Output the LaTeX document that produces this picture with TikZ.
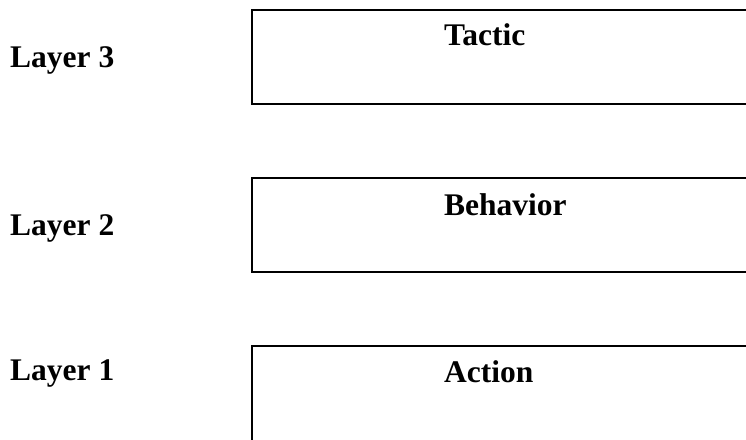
\documentclass[tikz,border=0pt]{standalone}
\usepackage{fontspec}
\setmainfont{Liberation Serif}
\begin{document}
\begin{tikzpicture}[x=1pt,y=-1pt,
  layerbox/.style={draw=black,line width=2pt,rectangle,anchor=north west,
    minimum width=520pt,minimum height=94pt,inner sep=0pt},
  tag/.style={font=\fontsize{31.5}{38}\selectfont\bfseries,inner sep=0pt,anchor=base west}]
\useasboundingbox (0,0) rectangle (746,439);
\clip (0,0) rectangle (746,439);
% the three layer boxes
\node[layerbox] (tacticbox) at (250.5,8.5) {};
\node[layerbox] (behaviorbox) at (250.5,176.5) {};
\node[layerbox,minimum height=120pt] (actionbox) at (250.5,344.5) {};
% box titles
\node[tag] (tactic) at (444,45) {Tactic};
\node[tag] (behavior) at (444,215) {Behavior};
\node[tag] (action) at (444,382) {Action};
% layer labels
\node[tag] (l3) at (10,67.5) {Layer 3};
\node[tag] (l2) at (10,235) {Layer 2};
\node[tag] (l1) at (10,380) {Layer 1};
\end{tikzpicture}
\end{document}
